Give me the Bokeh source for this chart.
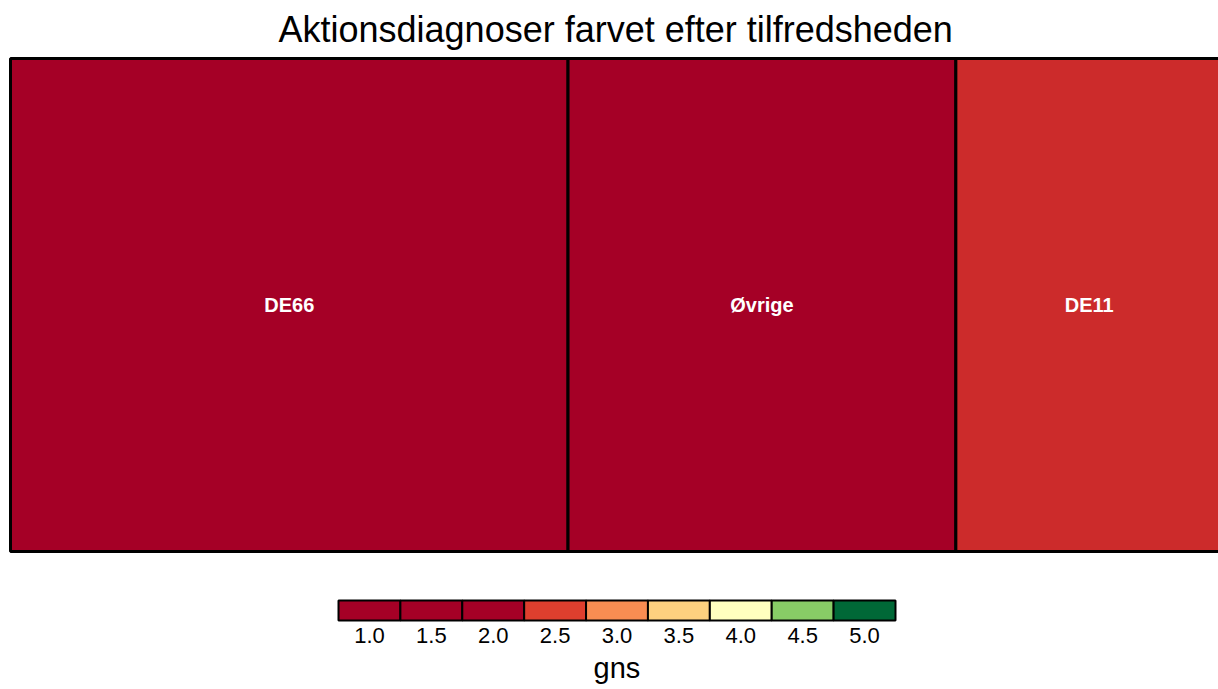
from bokeh.plotting import figure
from bokeh.models import Range1d, ColumnDataSource, LinearAxis, FixedTicker, Title
from bokeh.embed import file_html
from bokeh.resources import INLINE
from bokeh.core.properties import value

# ---- data ----
diagnoses = ["DE66", "Øvrige", "DE11"]
counts = [46, 32, 22]
gns = [1.6, 1.8, 2.34]

legend_labels = ["1.0", "1.5", "2.0", "2.5", "3.0", "3.5", "4.0", "4.5", "5.0"]
legend_values = [1.0, 1.5, 2.0, 2.5, 3.0, 3.5, 4.0, 4.5, 5.0]
legend_colors = ["#A50026", "#A50026", "#A50026", "#DE3F2E", "#F88D52",
                 "#FDD17F", "#FFFFBF", "#88CC66", "#006837"]

title_text = "Aktionsdiagnoser farvet efter tilfredsheden"
legend_title = "gns"
FONT = "Liberation Sans"


def hex2rgb(h):
    h = h.lstrip("#")
    return tuple(int(h[i:i + 2], 16) for i in (0, 2, 4))


def color_for(v):
    if v <= legend_values[0]:
        return legend_colors[0]
    for i in range(len(legend_values) - 1):
        a, b = legend_values[i], legend_values[i + 1]
        if a <= v <= b:
            t = (v - a) / (b - a)
            c1, c2 = hex2rgb(legend_colors[i]), hex2rgb(legend_colors[i + 1])
            c = [round(c1[k] + t * (c2[k] - c1[k])) for k in range(3)]
            return "#%02X%02X%02X" % tuple(c)
    return legend_colors[-1]


# ---- treemap layout (slice) ----
total = float(sum(counts))
lefts, rights = [], []
acc = 0.0
for c in counts:
    lefts.append(acc / total * 100)
    acc += c
    rights.append(acc / total * 100)
centers = [(l + r) / 2 for l, r in zip(lefts, rights)]
fills = [color_for(g) for g in gns]

src = ColumnDataSource(dict(left=lefts, right=rights, bottom=[0] * 3, top=[100] * 3,
                            fill=fills, name=diagnoses, cx=centers, cy=[50] * 3))

# ---- geometry (pixels) ----
W, H = 1218, 689
FRAME_TOP = 55
FRAME_BOTTOM = 622
frame_h = FRAME_BOTTOM - FRAME_TOP

# treemap: x 0..100 -> 1212 px starting at px 10
px_per_x = 1212 / 100.0
x0 = -10 / px_per_x
x1 = x0 + W / px_per_x
# y 0..100 -> px 551..58
px_per_y = 493 / 100.0
y_end = 100 + (58 - FRAME_TOP) / px_per_y
y_start = y_end - frame_h / px_per_y

# legend: 9 boxes spanning px 338..895, rows px 600..620
n = len(legend_labels)
lpx = (895 - 338) / n
lx0 = -338 / lpx
lx1 = lx0 + W / lpx
ly_start = -(FRAME_BOTTOM - 620) / 20.0
ly_end = ly_start + frame_h / 20.0

p = figure(width=W, height=H, x_range=Range1d(x0, x1), y_range=Range1d(y_start, y_end),
           x_axis_type=None, y_axis_type=None, title=None,
           output_backend="svg", toolbar_location=None,
           min_border_left=0, min_border_right=0,
           min_border_top=FRAME_TOP, min_border_bottom=H - FRAME_BOTTOM)
p.extra_x_ranges = {"lx": Range1d(lx0, lx1)}
p.extra_y_ranges = {"ly": Range1d(ly_start, ly_end)}

p.grid.visible = False
p.outline_line_color = None
p.background_fill_color = "white"
p.border_fill_color = "white"

p.add_layout(Title(text=title_text, align="left", offset=278, standoff=11,
                   text_font=FONT, text_font_size="36px", text_font_style="normal",
                   text_color="#000000"), "above")

p.quad(left="left", right="right", bottom="bottom", top="top", source=src,
       fill_color="fill", line_color="black", line_width=3)
p.text(x="cx", y="cy", text="name", source=src, text_color="white",
       text_font=value(FONT), text_font_size="20px", text_font_style="bold",
       text_align="center", text_baseline="middle")

# legend boxes
lcx = [i + 0.5 for i in range(n)]
p.rect(x=lcx, y=0.5, width=1, height=1, fill_color=legend_colors,
       line_color="black", line_width=2, x_range_name="lx", y_range_name="ly")

ax = LinearAxis(x_range_name="lx", ticker=FixedTicker(ticks=lcx),
                major_label_overrides={c: lab for c, lab in zip(lcx, legend_labels)})
ax.axis_line_color = None
ax.major_tick_line_color = None
ax.minor_tick_line_color = None
ax.major_tick_out = 0
ax.major_tick_in = 0
ax.major_label_standoff = 5
ax.major_label_text_font = FONT
ax.major_label_text_font_size = "22px"
ax.major_label_text_color = "#000000"
p.add_layout(ax, "below")

p.add_layout(Title(text=legend_title, align="left", offset=593, standoff=9,
                   text_font=FONT, text_font_size="29px", text_font_style="normal",
                   text_color="#000000"), "below")

open("out.html", "w").write(file_html(p, INLINE))
